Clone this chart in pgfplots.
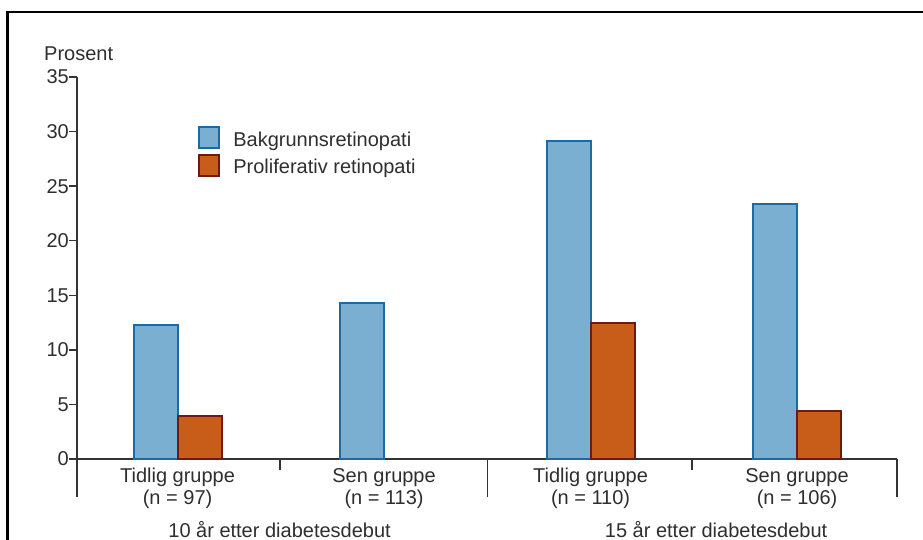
\documentclass[border=0pt]{standalone}
\usepackage{fontspec}
\setmainfont{Liberation Sans}
\usepackage{pgfplots}
\pgfplotsset{compat=1.18}
\definecolor{bfill}{HTML}{7AAFD2}
\definecolor{bdraw}{HTML}{1A6AA5}
\definecolor{ofill}{HTML}{C85D19}
\definecolor{odraw}{HTML}{6E1A12}
\definecolor{axc}{HTML}{333333}
\definecolor{txt}{HTML}{2E2E2E}
\begin{document}
\begin{tikzpicture}[font=\fontsize{20}{24}\selectfont, text=txt]
\useasboundingbox (-77pt,-81pt) rectangle (846pt,459pt);
\begin{axis}[
  at={(0pt,0pt)}, anchor=south west,
  scale only axis, width=820pt, height=382pt,
  xmin=-0.487, xmax=3.484, ymin=0, ymax=35,
  axis lines*=left,
  axis line style={color=axc, line width=1.5pt},
  clip=false,
  ybar=0pt, bar width=44pt,
  xtick=\empty,
  ytick={0,5,...,35},
  tick align=outside,
  major tick length=8pt,
  ytick style={color=axc, line width=1.5pt},
  yticklabel style={anchor=east, inner sep=0pt, text=txt, /pgf/number format/assume math mode=true},
  tick label style={font=\fontsize{20}{24}\selectfont},
  legend cell align=left,
  legend image code/.code={\draw[#1, line width=2pt] (0pt,-2pt) rectangle (20pt,19pt);},
  legend style={at={(0.148,0.8717)}, anchor=north west, draw=none, fill=none,
    inner sep=0pt, outer sep=0pt, row sep=4pt, column sep=11pt,
    cells={anchor=base west, inner sep=0pt},
    font=\fontsize{20}{24}\selectfont},
]
\addplot[fill=bfill, draw=bdraw, line width=2pt] coordinates {(0,12.3) (1,14.3) (2,29.1) (3,23.4)};
\addlegendentry{Bakgrunnsretinopati}
\addplot[fill=ofill, draw=odraw, line width=2pt] coordinates {(0,3.9) (2,12.5) (3,4.4)};
\addlegendentry{Proliferativ retinopati}
% group separators
\draw[axc, line width=1.5pt] (axis cs:-0.487,0) -- ++(0pt,-38pt);
\draw[axc, line width=1.5pt] (axis cs:1.5,0) -- ++(0pt,-38pt);
\draw[axc, line width=1.5pt] (axis cs:3.484,0) -- ++(0pt,-38pt);
\draw[axc, line width=1.5pt] (axis cs:0.496,0) -- ++(0pt,-11pt);
\draw[axc, line width=1.5pt] (axis cs:2.49,0) -- ++(0pt,-11pt);
% category labels
\node[anchor=base, inner sep=0pt] at ([yshift=-24pt]axis cs:0,0) {Tidlig gruppe};
\node[anchor=base, inner sep=0pt] at ([yshift=-46pt]axis cs:0,0) {(n = 97)};
\node[anchor=base, inner sep=0pt] at ([yshift=-24pt]axis cs:1,0) {Sen gruppe};
\node[anchor=base, inner sep=0pt] at ([yshift=-46pt]axis cs:1,0) {(n = 113)};
\node[anchor=base, inner sep=0pt] at ([yshift=-24pt]axis cs:2,0) {Tidlig gruppe};
\node[anchor=base, inner sep=0pt] at ([yshift=-46pt]axis cs:2,0) {(n = 110)};
\node[anchor=base, inner sep=0pt] at ([yshift=-24pt]axis cs:3,0) {Sen gruppe};
\node[anchor=base, inner sep=0pt] at ([yshift=-46pt]axis cs:3,0) {(n = 106)};
\node[anchor=base, inner sep=0pt] at ([yshift=-78pt]axis cs:0.494,0) {10 år etter diabetesdebut};
\node[anchor=base, inner sep=0pt] at ([yshift=-78pt]axis cs:2.608,0) {15 år etter diabetesdebut};
\end{axis}
\node[anchor=base west, inner sep=0pt] at (-33pt,398pt) {Prosent};
\draw[black, line width=2.6pt] (-69.5pt,-100pt) -- (-69.5pt,447pt) -- (870pt,447pt);
\end{tikzpicture}
\end{document}
